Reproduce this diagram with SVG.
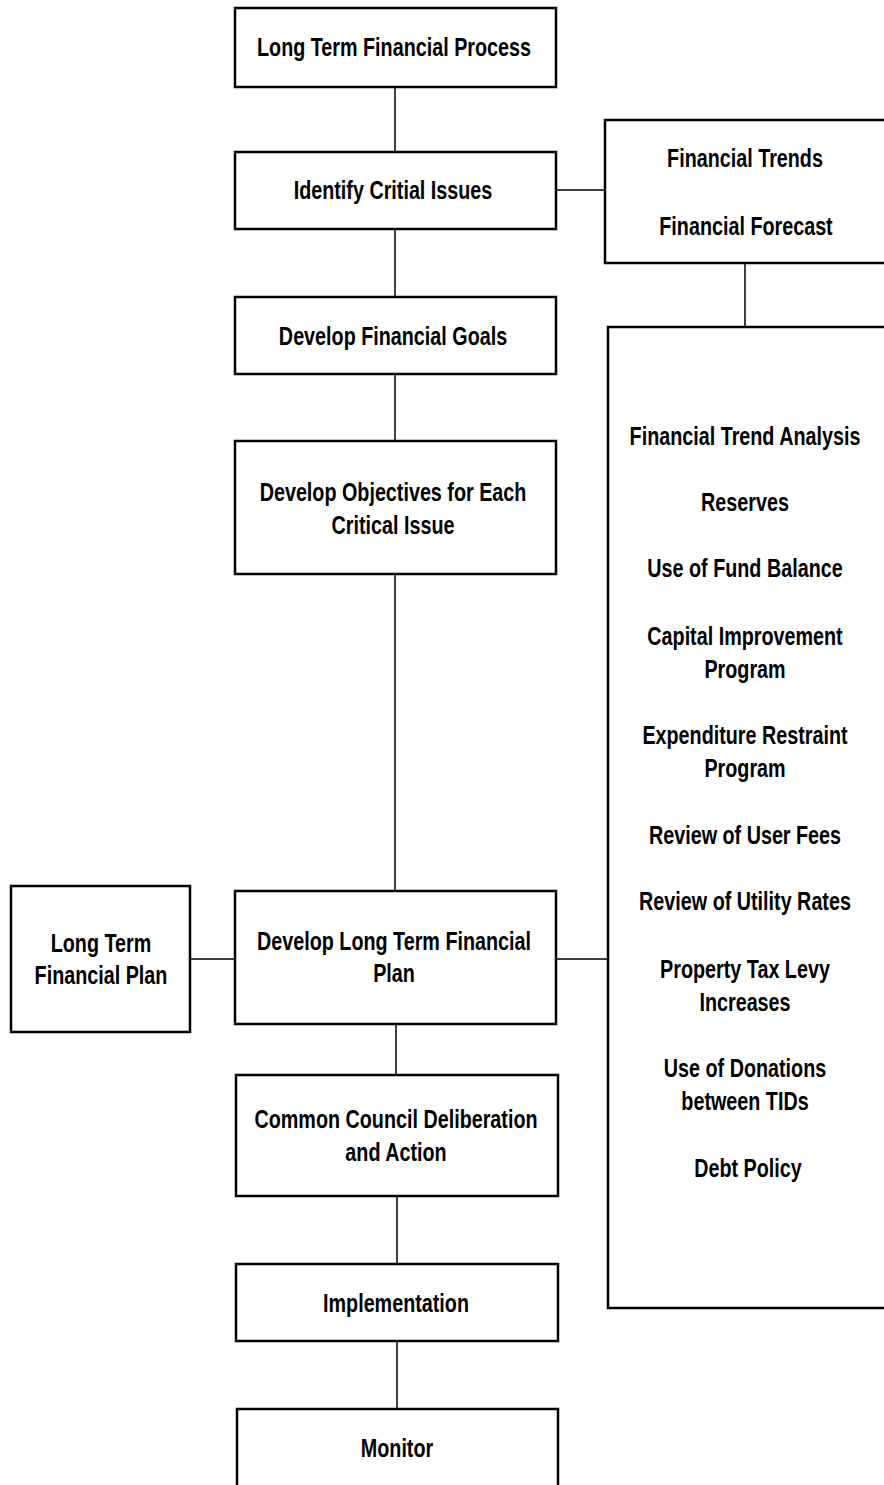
<svg xmlns="http://www.w3.org/2000/svg" width="884" height="1485" viewBox="0 0 884 1485">
<style>
.box{fill:#fff;stroke:#000;stroke-width:2.5}
.con line{stroke:#000;stroke-width:1.5}
text{font-family:"Liberation Sans",Arial,sans-serif;font-weight:bold;font-size:26px;text-anchor:middle;fill:#000}
</style>
<rect width="884" height="1485" fill="#fff"/>
<g id="connectors" class="con">
<line x1="395" y1="87" x2="395" y2="152"/>
<line x1="395" y1="229" x2="395" y2="297"/>
<line x1="395" y1="374" x2="395" y2="441"/>
<line x1="395" y1="574" x2="395" y2="891"/>
<line x1="396" y1="1024" x2="396" y2="1075"/>
<line x1="397" y1="1196" x2="397" y2="1264"/>
<line x1="397" y1="1341" x2="397" y2="1409"/>
<line x1="556" y1="190" x2="605" y2="190"/>
<line x1="745" y1="263" x2="745" y2="327"/>
<line x1="556" y1="959" x2="608" y2="959"/>
<line x1="190" y1="959" x2="235" y2="959"/>
</g>
<g id="n1"><rect class="box" x="235" y="8" width="321" height="79"/><text transform="translate(394 56) scale(0.76 1)">Long Term Financial Process</text></g>
<g id="n2"><rect class="box" x="235" y="152" width="321" height="77"/><text transform="translate(393 199) scale(0.76 1)">Identify Critial Issues</text></g>
<g id="n3"><rect class="box" x="605" y="120" width="290" height="143"/><text transform="translate(745 167) scale(0.76 1)">Financial Trends</text><text transform="translate(746 235) scale(0.76 1)">Financial Forecast</text></g>
<g id="n4"><rect class="box" x="235" y="297" width="321" height="77"/><text transform="translate(393 345) scale(0.76 1)">Develop Financial Goals</text></g>
<g id="n5"><rect class="box" x="235" y="441" width="321" height="133"/><text transform="translate(393 501) scale(0.76 1)">Develop Objectives for Each</text><text transform="translate(393 534) scale(0.76 1)">Critical Issue</text></g>
<g id="n6"><rect class="box" x="608" y="327" width="285" height="981"/>
<text transform="translate(745 445) scale(0.76 1)">Financial Trend Analysis</text>
<text transform="translate(745 511) scale(0.76 1)">Reserves</text>
<text transform="translate(745 577) scale(0.76 1)">Use of Fund Balance</text>
<text transform="translate(745 645) scale(0.76 1)">Capital Improvement</text>
<text transform="translate(745 678) scale(0.76 1)">Program</text>
<text transform="translate(745 744) scale(0.76 1)">Expenditure Restraint</text>
<text transform="translate(745 777) scale(0.76 1)">Program</text>
<text transform="translate(745 844) scale(0.76 1)">Review of User Fees</text>
<text transform="translate(745 910) scale(0.76 1)">Review of Utility Rates</text>
<text transform="translate(745 978) scale(0.76 1)">Property Tax Levy</text>
<text transform="translate(745 1011) scale(0.76 1)">Increases</text>
<text transform="translate(745 1077) scale(0.76 1)">Use of Donations</text>
<text transform="translate(745 1110) scale(0.76 1)">between TIDs</text>
<text transform="translate(748 1177) scale(0.76 1)">Debt Policy</text>
</g>
<g id="n7"><rect class="box" x="11" y="886" width="179" height="146"/><text transform="translate(101 952) scale(0.76 1)">Long Term</text><text transform="translate(101 984) scale(0.76 1)">Financial Plan</text></g>
<g id="n8"><rect class="box" x="235" y="891" width="321" height="133"/><text transform="translate(394 950) scale(0.76 1)">Develop Long Term  Financial</text><text transform="translate(394 982) scale(0.76 1)">Plan</text></g>
<g id="n9"><rect class="box" x="236" y="1075" width="322" height="121"/><text transform="translate(396 1128) scale(0.76 1)">Common Council Deliberation</text><text transform="translate(396 1161) scale(0.76 1)">and Action</text></g>
<g id="n10"><rect class="box" x="236" y="1264" width="322" height="77"/><text transform="translate(396 1312) scale(0.76 1)">Implementation</text></g>
<g id="n11"><rect class="box" x="237" y="1409" width="321" height="90"/><text transform="translate(397 1457) scale(0.76 1)">Monitor</text></g>
</svg>
